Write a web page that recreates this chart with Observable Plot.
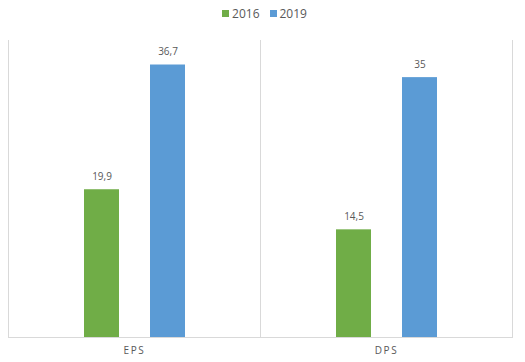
<!DOCTYPE html>
<html>
<head>
<meta charset="utf-8">
<script src="https://cdn.jsdelivr.net/npm/d3@7"></script>
<script src="https://cdn.jsdelivr.net/npm/@observablehq/plot@0.6"></script>
<style>
  body { margin: 0; background: #fff; font-family: "Open Sans", "Noto Sans", sans-serif; }
  #wrap { position: relative; width: 525px; height: 362px; }
  #legend { position: absolute; top: 5px; left: 0; width: 525px; display: flex; justify-content: center; gap: 10px; font-size: 12px; color: #595959; padding-left: 4px; box-sizing: border-box; }
  #legend span.item { display: flex; align-items: center; gap: 3px; }
  #legend span.sw { display: inline-block; width: 7px; height: 7px; }
  svg g[aria-label="fx-axis tick label"] text { letter-spacing: 1.6px; }
</style>
</head>
<body>
<div id="wrap">
  <div id="legend"></div>
  <div id="chart"></div>
</div>
<script>
const categories = ["EPS", "DPS"];
const years = ["2016", "2019"];
const values2016 = [19.9, 14.5];
const values2019 = [36.7, 35];
const colors = ["#70ad47", "#5b9bd5"];

const data = [];
categories.forEach((c, i) => {
  data.push({cat: c, year: years[0], value: values2016[i]});
  data.push({cat: c, year: years[1], value: values2019[i]});
});

const fmt = d3.formatLocale({decimal: ",", thousands: ".", grouping: [3], currency: ["", ""]}).format("~r");

const legend = document.getElementById("legend");
years.forEach((y, i) => {
  const item = document.createElement("span");
  item.className = "item";
  const sw = document.createElement("span");
  sw.className = "sw";
  sw.style.background = colors[i];
  item.appendChild(sw);
  item.appendChild(document.createTextNode(y));
  legend.appendChild(item);
});

const chart = Plot.plot({
  width: 525,
  height: 362,
  marginTop: 40,
  marginBottom: 25,
  marginLeft: 7,
  marginRight: 13,
  style: {fontFamily: "'Open Sans', 'Noto Sans', sans-serif", fontSize: "10px", color: "#595959"},
  fx: {domain: categories, padding: 0, label: null, axis: "bottom", tickSize: 0, tickPadding: 9},
  x: {domain: years, paddingInner: 0.47, paddingOuter: 1.14, axis: null},
  y: {domain: [0, 40], axis: null},
  color: {domain: years, range: colors},
  marks: [
    Plot.frame({anchor: "left", stroke: "#d9d9d9"}),
    Plot.frame({anchor: "right", stroke: "#d9d9d9"}),
    Plot.barY(data, {fx: "cat", x: "year", y: "value", fill: "year"}),
    Plot.ruleY([0], {stroke: "#d9d9d9"}),
    Plot.text(data, {fx: "cat", x: "year", y: "value", text: d => fmt(d.value), lineAnchor: "bottom", dy: -10, fill: "#595959", fontSize: 10})
  ]
});
document.getElementById("chart").appendChild(chart);
</script>
</body>
</html>
